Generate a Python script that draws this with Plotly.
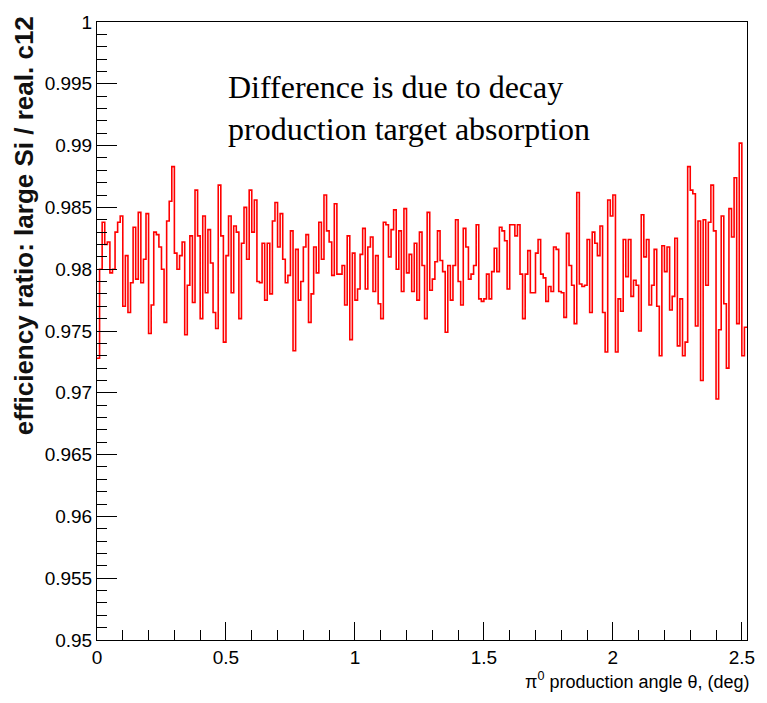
import numpy as np
import plotly.graph_objects as go

# Efficiency ratio per 0.01 deg bin of pi0 production angle, in four angle ranges
ratio_000_063 = [0.9728, 0.9800, 0.9838, 0.9820, 0.9822, 0.9797, 0.9800, 0.9830, 0.9838, 0.9843,
                 0.9770, 0.9811, 0.9765, 0.9789, 0.9834, 0.9792, 0.9846, 0.9789, 0.9808, 0.9845,
                 0.9748, 0.9771, 0.9830, 0.9828, 0.9818, 0.9800, 0.9757, 0.9839, 0.9855, 0.9883,
                 0.9813, 0.9800, 0.9811, 0.9822, 0.9747, 0.9787, 0.9827, 0.9773, 0.9864, 0.9827,
                 0.9760, 0.9843, 0.9781, 0.9832, 0.9805, 0.9765, 0.9752, 0.9868, 0.9827, 0.9741,
                 0.9811, 0.9843, 0.9781, 0.9835, 0.9830, 0.9760, 0.9821, 0.9850, 0.9808, 0.9864,
                 0.9830, 0.9856, 0.9790]
ratio_063_126 = [0.9789, 0.9821, 0.9775, 0.9821, 0.9780, 0.9839, 0.9854, 0.9818, 0.9845, 0.9808,
                 0.9789, 0.9795, 0.9831, 0.9734, 0.9816, 0.9775, 0.9790, 0.9818, 0.9828, 0.9757,
                 0.9780, 0.9818, 0.9797, 0.9838, 0.9808, 0.9860, 0.9831, 0.9822, 0.9795, 0.9853,
                 0.9796, 0.9796, 0.9803, 0.9771, 0.9827, 0.9743, 0.9813, 0.9775, 0.9784, 0.9812,
                 0.9833, 0.9784, 0.9818, 0.9826, 0.9782, 0.9811, 0.9772, 0.9760, 0.9838, 0.9836,
                 0.9810, 0.9832, 0.9848, 0.9800, 0.9831, 0.9782, 0.9849, 0.9797, 0.9812, 0.9782,
                 0.9821, 0.9775, 0.9830]
ratio_126_189 = [0.9803, 0.9760, 0.9846, 0.9783, 0.9792, 0.9806, 0.9831, 0.9807, 0.9798, 0.9749,
                 0.9803, 0.9775, 0.9803, 0.9840, 0.9790, 0.9771, 0.9833, 0.9818, 0.9792, 0.9796,
                 0.9803, 0.9836, 0.9776, 0.9774, 0.9776, 0.9796, 0.9776, 0.9798, 0.9817, 0.9798,
                 0.9834, 0.9831, 0.9823, 0.9784, 0.9836, 0.9836, 0.9827, 0.9836, 0.9796, 0.9760,
                 0.9796, 0.9815, 0.9781, 0.9781, 0.9813, 0.9824, 0.9796, 0.9793, 0.9774, 0.9786,
                 0.9782, 0.9818, 0.9816, 0.9782, 0.9781, 0.9761, 0.9829, 0.9803, 0.9787, 0.9756,
                 0.9862, 0.9788, 0.9786]
ratio_189_252 = [0.9787, 0.9824, 0.9765, 0.9830, 0.9821, 0.9811, 0.9835, 0.9765, 0.9733, 0.9856,
                 0.9843, 0.9860, 0.9733, 0.9776, 0.9766, 0.9824, 0.9794, 0.9824, 0.9778, 0.9791,
                 0.9787, 0.9750, 0.9844, 0.9810, 0.9824, 0.9771, 0.9787, 0.9816, 0.9770, 0.9730,
                 0.9819, 0.9798, 0.9818, 0.9767, 0.9778, 0.9825, 0.9738, 0.9776, 0.9730, 0.9741,
                 0.9883, 0.9864, 0.9861, 0.9754, 0.9839, 0.9710, 0.9840, 0.9787, 0.9838, 0.9868,
                 0.9831, 0.9695, 0.9751, 0.9843, 0.9772, 0.9720, 0.9849, 0.9826, 0.9874, 0.9756,
                 0.9902, 0.9730, 0.9753]

bin_width = 0.01  # deg
y_ticks = [0.95, 0.955, 0.96, 0.965, 0.97, 0.975, 0.98, 0.985, 0.99, 0.995, 1.0]
y_tick_labels = ["0.95", "0.955", "0.96", "0.965", "0.97", "0.975", "0.98", "0.985", "0.99", "0.995", "1"]
x_ticks = [0, 0.5, 1, 1.5, 2, 2.5]
x_tick_labels = ["0", "0.5", "1", "1.5", "2", "2.5"]

ratio = ratio_000_063 + ratio_063_126 + ratio_126_189 + ratio_189_252
edges = np.arange(len(ratio) + 1) * bin_width
step_y = ratio + [ratio[-1]]

sans = "Liberation Sans, Arial, Helvetica, sans-serif"
tick_font = dict(family=sans, size=19, color="black")

fig = go.Figure()
fig.add_trace(go.Scatter(
    x=edges, y=step_y, mode="lines", line_shape="hv",
    line=dict(color="#ff0000", width=1.6), showlegend=False, hoverinfo="skip",
))

fig.update_layout(
    width=767, height=703,
    margin=dict(l=97, r=16, t=18, b=63),
    paper_bgcolor="white", plot_bgcolor="white",
    xaxis=dict(
        range=[0, edges[-1]], tickvals=x_ticks, ticktext=x_tick_labels,
        ticks="inside", ticklen=18, tickwidth=1, tickcolor="black",
        minor=dict(ticks="inside", ticklen=10, dtick=0.1, tick0=0, tickcolor="black"),
        showline=True, linecolor="black", linewidth=1, mirror=True,
        showgrid=False, zeroline=False, tickfont=tick_font,
    ),
    yaxis=dict(
        range=[0.95, 1.0], tickvals=y_ticks, ticktext=y_tick_labels,
        ticks="inside", ticklen=20, tickwidth=1, tickcolor="black",
        minor=dict(ticks="inside", ticklen=10, dtick=0.001, tick0=0.95, tickcolor="black"),
        showline=True, linecolor="black", linewidth=1, mirror=True,
        showgrid=False, zeroline=False, tickfont=tick_font,
    ),
)

# Axis titles, aligned to the far end of each axis
fig.add_annotation(
    text="π<sup>0</sup> production angle θ, (deg)",
    xref="paper", yref="paper", x=1.008, y=-0.043, xanchor="right", yanchor="top",
    showarrow=False, font=dict(family=sans, size=18, color="black"),
)
fig.add_annotation(
    text="<b>efficiency ratio: large Si / real. c12</b>",
    xref="paper", yref="paper", x=-0.112, y=1.012, xanchor="center", yanchor="top",
    textangle=-90, showarrow=False,
    font=dict(family=sans, size=26, color="#111111"),
)

fig.add_annotation(
    text="Difference is due to decay<br>production target absorption",
    xref="paper", yref="paper", x=0.199, y=0.927, xanchor="left", yanchor="top",
    align="left", showarrow=False,
    font=dict(family="Liberation Serif, Times New Roman, serif", size=32, color="black"),
)

fig.write_html("out.html")
